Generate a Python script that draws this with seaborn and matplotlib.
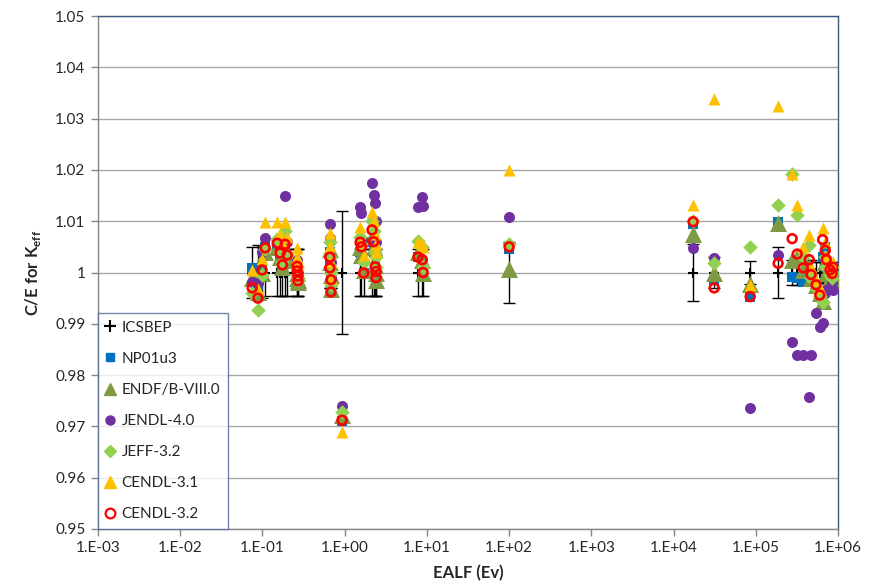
import numpy as np
import pandas as pd
import matplotlib
matplotlib.use("Agg")
import matplotlib.pyplot as plt
from matplotlib.lines import Line2D
from matplotlib.ticker import FixedLocator, FuncFormatter, NullLocator
import seaborn as sns

# Benchmark cases: energy of average lethargy causing fission (eV)
ealf = [0.075, 0.088, 0.099, 0.108, 0.151, 0.164, 0.175, 0.189, 0.200, 0.264, 0.264, 0.270, 0.270,
        0.66, 0.66, 0.68, 0.68, 0.93, 1.54, 1.60, 1.70, 2.15, 2.25, 2.35, 2.41, 2.41,
        7.8, 8.8, 9.0, 100.0,
        1.73e4, 3.12e4, 8.55e4, 1.87e5, 2.77e5, 3.19e5, 3.78e5, 4.47e5, 4.70e5, 5.40e5,
        6.00e5, 6.50e5, 7.00e5, 7.20e5, 8.00e5, 8.50e5, 8.80e5]

# Experimental (ICSBEP) k-eff uncertainty, relative to the benchmark value
icsbep_unc = [0.0050, 0.0053, 0.0050, 0.0045, 0.0045, 0.0045, 0.0045, 0.0045, 0.0045, 0.0045, 0.0045, 0.0045, 0.0045,
              0.0030, 0.0030, 0.0030, 0.0030, 0.0120, 0.0045, 0.0045, 0.0045, 0.0045, 0.0045, 0.0045, 0.0045, 0.0045,
              0.0045, 0.0045, 0.0045, 0.0060,
              0.0055, 0.0030, 0.0022, 0.0050, 0.0025, 0.0025, 0.0025, 0.0025, 0.0025, 0.0020,
              0.0020, 0.0020, 0.0020, 0.0020, 0.0020, 0.0020, 0.0020]
ICSBEP_REF = 1.0

# Calculated / experimental k-eff for each nuclear data library
np01u3 = [1.0008, 0.9975, 1.0010, 1.0050, 1.0045, 1.0025, 1.0015, 1.0040, 1.0030, 1.0005, 0.9995, 0.9990, 0.9985,
          1.0040, 1.0015, 0.9990, 0.9965, 0.9710, 1.0040, 1.0030, 1.0000, 1.0060, 1.0040, 1.0010, 1.0000, 0.9990,
          1.0030, 1.0020, 1.0000, 1.0045,
          1.0095, 0.9985, 0.9952, 1.0099, 0.9991, 0.9990, 0.9982, 0.9985, 0.9988, 0.9975,
          0.9960, 1.0030, 1.0050, 1.0010, 1.0000, 0.9995, 0.9998]
endf_b8 = [0.9990, 0.9962, 1.0000, 1.0040, 1.0050, 1.0030, 1.0010, 1.0045, 1.0025, 1.0000, 0.9990, 0.9985, 0.9982,
           1.0045, 1.0020, 0.9995, 0.9968, 0.9722, 1.0050, 1.0035, 1.0005, 1.0070, 1.0050, 1.0015, 1.0000, 0.9985,
           1.0040, 1.0025, 1.0000, 1.0007,
           1.0075, 1.0000, 0.9977, 1.0097, 1.0024, 1.0030, 1.0005, 1.0010, 0.9990, 0.9975,
           0.9960, 0.9945, 1.0020, 1.0000, 0.9990, 0.9985, 0.9992]
jendl40 = [0.9982, 0.9980, 1.0040, 1.0067, 1.0060, 1.0045, 1.0030, 1.0149, 1.0060, 1.0025, 1.0010, 1.0000, 0.9995,
           1.0095, 1.0068, 1.0020, 0.9990, 0.9740, 1.0128, 1.0116, 1.0060, 1.0175, 1.0151, 1.0135, 1.0100, 1.0060,
           1.0128, 1.0147, 1.0130, 1.0108,
           1.0048, 1.0028, 0.9736, 1.0034, 0.9865, 0.9839, 0.9839, 0.9758, 0.9839, 0.9921,
           0.9894, 0.9902, 0.9960, 0.9965, 0.9970, 0.9980, 0.9965]
jeff32 = [0.9960, 0.9927, 0.9995, 1.0045, 1.0065, 1.0040, 1.0020, 1.0080, 1.0035, 1.0010, 0.9995, 0.9990, 0.9985,
          1.0060, 1.0030, 1.0000, 0.9975, 0.9728, 1.0070, 1.0055, 1.0020, 1.0100, 1.0080, 1.0040, 1.0030, 1.0010,
          1.0062, 1.0050, 1.0010, 1.0055,
          1.0100, 1.0018, 1.0050, 1.0132, 1.0192, 1.0112, 1.0030, 1.0054, 0.9990, 0.9970,
          0.9955, 0.9943, 1.0030, 1.0010, 0.9995, 0.9990, 1.0000]
cendl31 = [1.0005, 0.9968, 1.0026, 1.0099, 1.0099, 1.0075, 1.0060, 1.0099, 1.0070, 1.0048, 1.0030, 1.0020, 1.0015,
           1.0077, 1.0052, 1.0020, 0.9990, 0.9690, 1.0089, 1.0060, 1.0034, 1.0118, 1.0100, 1.0075, 1.0055, 1.0040,
           1.0060, 1.0055, 1.0050, 1.0200,
           1.0131, 1.0338, 0.9975, 1.0325, 1.0192, 1.0132, 1.0050, 1.0073, 1.0010, 0.9985,
           0.9970, 1.0087, 1.0060, 1.0030, 1.0010, 1.0005, 1.0020]
cendl32 = [0.9970, 0.9950, 1.0005, 1.0048, 1.0057, 1.0038, 1.0015, 1.0055, 1.0034, 1.0012, 1.0003, 0.9993, 0.9984,
           1.0030, 1.0009, 0.9986, 0.9962, 0.9712, 1.0059, 1.0050, 0.9999, 1.0083, 1.0060, 1.0011, 1.0002, 0.9990,
           1.0030, 1.0025, 1.0000, 1.0050,
           1.0099, 0.9970, 0.9953, 1.0018, 1.0066, 1.0036, 1.0009, 1.0025, 0.9996, 0.9976,
           0.9956, 1.0064, 1.0043, 1.0025, 1.0005, 0.9998, 1.0010]

x_ticks = [1e-3, 1e-2, 1e-1, 1e0, 1e1, 1e2, 1e3, 1e4, 1e5, 1e6]
y_ticks = [0.95, 0.96, 0.97, 0.98, 0.99, 1.00, 1.01, 1.02, 1.03, 1.04, 1.05]

df = pd.DataFrame({
    "EALF": ealf,
    "unc": icsbep_unc,
    "ICSBEP": np.full(len(ealf), ICSBEP_REF),
    "NP01u3": np01u3,
    "ENDF/B-VIII.0": endf_b8,
    "JENDL-4.0": jendl40,
    "JEFF-3.2": jeff32,
    "CENDL-3.1": cendl31,
    "CENDL-3.2": cendl32,
})

sns.set_style("white")
plt.rcParams["font.family"] = ["Lato", "DejaVu Sans"]
plt.rcParams["mathtext.fontset"] = "custom"
plt.rcParams["mathtext.rm"] = "Lato"
plt.rcParams["mathtext.bf"] = "Lato:bold"

fig = plt.figure(figsize=(8.85, 5.88), dpi=100)
ax = fig.add_axes([98 / 885, 1 - 529 / 588, 740 / 885, 513 / 588])
ax.set_xscale("log")

# experimental uncertainty bars around the benchmark value
ax.errorbar(df["EALF"], df["ICSBEP"], yerr=df["unc"], fmt="none", ecolor="black",
            elinewidth=1, capsize=4, capthick=1, zorder=2)

series = [
    ("ICSBEP", dict(marker="+", color="black", s=60, linewidth=1.5)),
    ("NP01u3", dict(marker="s", color="#0070C0", s=42, linewidth=0)),
    ("ENDF/B-VIII.0", dict(marker="^", color="#7E9A45", s=150, linewidth=0)),
    ("JENDL-4.0", dict(marker="o", color="#7030A0", s=63, linewidth=0)),
    ("JEFF-3.2", dict(marker="D", color="#92D050", s=55, linewidth=0)),
    ("CENDL-3.1", dict(marker="^", color="#FFC000", s=75, linewidth=0)),
    ("CENDL-3.2", dict(marker="o", color="#FF0000", facecolor="none", edgecolor="#FF0000",
                       s=40, linewidth=1.9)),
]
for z, (name, kw) in enumerate(series):
    sns.scatterplot(data=df, x="EALF", y=name, ax=ax, zorder=3 + z, legend=False, **kw)

ax.set_xlim(1e-3, 1e6)
ax.set_ylim(0.95, 1.05)
ax.xaxis.set_major_locator(FixedLocator(x_ticks))
ax.xaxis.set_minor_locator(NullLocator())
ax.xaxis.set_major_formatter(FuncFormatter(lambda v, p: f"1.E{int(round(np.log10(v))):+03d}"))
ax.yaxis.set_major_locator(FixedLocator(y_ticks))
ax.yaxis.set_major_formatter(FuncFormatter(lambda v, p: f"{round(v, 2):g}"))

ax.yaxis.grid(True, color="#A6A6A6", linewidth=1)
ax.xaxis.grid(False)
ax.set_axisbelow(True)

ax.tick_params(axis="both", which="major", bottom=True, left=True, direction="out",
               length=5, width=1, color="#868686", labelsize=11, labelcolor="#262626", pad=4)
for side in ("left", "bottom"):
    ax.spines[side].set_color("#868686")
for side in ("top", "right"):
    ax.spines[side].set_color("#3B5A85")
for sp in ax.spines.values():
    sp.set_linewidth(1)

ax.set_xlabel("EALF (Ev)", fontsize=12, fontweight="bold", color="#262626", labelpad=7)
ax.set_ylabel(r"C/E for K$_{\mathbf{eff}}$", fontsize=12, fontweight="bold", color="#262626", labelpad=9)

handles = []
for name, kw in series:
    if name == "CENDL-3.2":
        h = Line2D([], [], linestyle="none", marker="o", markersize=7, markerfacecolor="none",
                   markeredgecolor="#FF0000", markeredgewidth=1.6)
    elif name == "ICSBEP":
        h = Line2D([], [], linestyle="none", marker="+", markersize=8, color="black", markeredgewidth=1.5)
    else:
        size = {"s": 6, "D": 6.5, "o": 6.5, "^": 8}[kw["marker"]]
        h = Line2D([], [], linestyle="none", marker=kw["marker"], markersize=size,
                   markerfacecolor=kw["color"], markeredgecolor=kw["color"])
    handles.append(h)

leg = ax.legend(handles, [n for n, _ in series], loc="lower left", bbox_to_anchor=(0, 0),
                borderaxespad=0, frameon=True, fancybox=False, edgecolor="#4F6690",
                fontsize=11, labelspacing=1.12, handlelength=0.6, handletextpad=0.45,
                borderpad=0.5)
leg.get_frame().set_linewidth(1)
leg.set_zorder(20)

fig.savefig("out.png", dpi=100)
